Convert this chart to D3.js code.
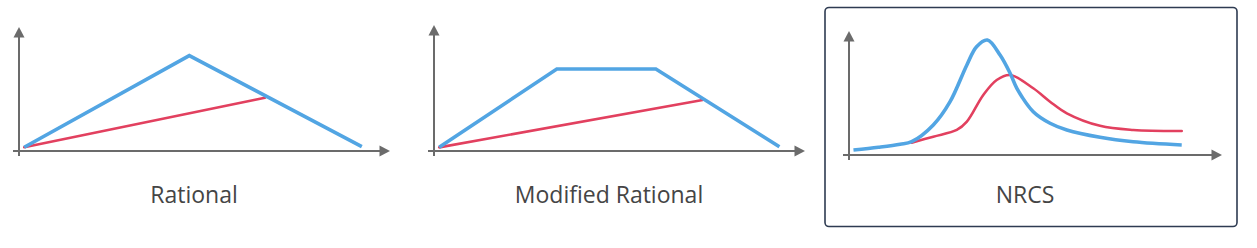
<!DOCTYPE html>
<html>
<head>
<meta charset="utf-8">
<script src="https://cdn.jsdelivr.net/npm/d3@7"></script>
<style>
  html, body { margin: 0; padding: 0; background: #ffffff; }
  svg { display: block; }
</style>
</head>
<body>
<svg id="chart" width="1257" height="248"></svg>
<script>
// ---- Data (abstract units: time 0..10, flow 0..10) ----
const panelTitles = ["Rational", "Modified Rational", "NRCS"];

// Rational hydrograph
const rationalInflow  = [[0.14, 0.30], [4.59, 7.69], [9.24, 0.35]];
const rationalOutflow = [[0.14, 0.30], [6.63, 4.30]];

// Modified Rational hydrograph
const modRationalInflow  = [[0.14, 0.29], [3.31, 6.51], [5.98, 6.51], [9.31, 0.34]];
const modRationalOutflow = [[0.14, 0.29], [7.24, 4.05]];

// NRCS hydrograph
const nrcsInflow = [
  [0.12, 0.40], [0.79, 0.62], [1.37, 0.86], [1.68, 1.07], [2.26, 2.42],
  [2.71, 4.30], [3.16, 7.26], [3.42, 8.73], [3.71, 9.27], [4.05, 8.06],
  [4.32, 6.59], [4.50, 5.38], [4.94, 3.49], [5.39, 2.56], [5.84, 2.02],
  [6.73, 1.43], [7.62, 1.07], [8.92, 0.81]
];
const nrcsOutflow = [
  [1.68, 0.99], [2.26, 1.48], [2.89, 2.02], [3.16, 2.69], [3.60, 4.84],
  [3.96, 6.05], [4.32, 6.45], [4.94, 5.38], [5.39, 4.30], [5.84, 3.36],
  [6.73, 2.35], [7.62, 2.02], [8.92, 1.94]
];

const inflowSeries  = [rationalInflow, modRationalInflow, nrcsInflow];
const outflowSeries = [rationalOutflow, modRationalOutflow, nrcsOutflow];
const smoothFlags   = [false, false, true];

// ---- Layout / style ----
const layout = [
  { x0: 19,  x1: 390,  y0: 151, y1: 27 },
  { x0: 434, x1: 805,  y0: 151, y1: 25 },
  { x0: 849, x1: 1222, y0: 155, y1: 31 }
];
const axisColor = "#6b6b6b";
const inflowColor = "#52a5e3";
const outflowColor = "#e2405f";
const textColor = "#454545";

const svg = d3.select("#chart");

// Highlight box around NRCS panel
svg.append("rect")
  .attr("x", 825).attr("y", 7.5)
  .attr("width", 412).attr("height", 219)
  .attr("rx", 4).attr("ry", 4)
  .attr("fill", "none")
  .attr("stroke", "#2e3b52")
  .attr("stroke-width", 1.6);

panelTitles.forEach((title, i) => {
  const L = layout[i];
  const x = d3.scaleLinear().domain([0, 10]).range([L.x0, L.x1]);
  const y = d3.scaleLinear().domain([0, 10]).range([L.y0, L.y1]);
  const g = svg.append("g");

  // axes
  const arrowLen = 10.5, arrowHalf = 5.5;
  g.append("line")
    .attr("x1", x(0) - 6).attr("x2", x(10) - arrowLen + 1)
    .attr("y1", y(0)).attr("y2", y(0))
    .attr("stroke", axisColor).attr("stroke-width", 2);
  g.append("line")
    .attr("x1", x(0)).attr("x2", x(0))
    .attr("y1", y(0) + 5).attr("y2", y(10) + arrowLen - 1)
    .attr("stroke", axisColor).attr("stroke-width", 2);
  // arrowheads
  g.append("path")
    .attr("d", `M${x(10)},${y(0)} L${x(10) - arrowLen},${y(0) - arrowHalf} L${x(10) - arrowLen},${y(0) + arrowHalf} Z`)
    .attr("fill", axisColor);
  g.append("path")
    .attr("d", `M${x(0)},${y(10)} L${x(0) - arrowHalf},${y(10) + arrowLen} L${x(0) + arrowHalf},${y(10) + arrowLen} Z`)
    .attr("fill", axisColor);

  const line = d3.line()
    .x(d => x(d[0])).y(d => y(d[1]))
    .curve(smoothFlags[i] ? d3.curveCatmullRom.alpha(0.5) : d3.curveLinear);

  g.append("path")
    .datum(outflowSeries[i])
    .attr("d", line)
    .attr("fill", "none")
    .attr("stroke", outflowColor)
    .attr("stroke-width", 2.6)
    .attr("stroke-linecap", "round")
    .attr("stroke-linejoin", "round");

  g.append("path")
    .datum(inflowSeries[i])
    .attr("d", line)
    .attr("fill", "none")
    .attr("stroke", inflowColor)
    .attr("stroke-width", 3.6)
    .attr("stroke-linecap", "butt")
    .attr("stroke-linejoin", "miter");

  g.append("text")
    .attr("x", (x(0) + x(10)) / 2 - 10.5)
    .attr("y", 203)
    .attr("text-anchor", "middle")
    .attr("font-family", "'Open Sans', 'Segoe UI', sans-serif")
    .attr("font-size", 23)
    .attr("fill", textColor)
    .text(title);
});
</script>
</body>
</html>
